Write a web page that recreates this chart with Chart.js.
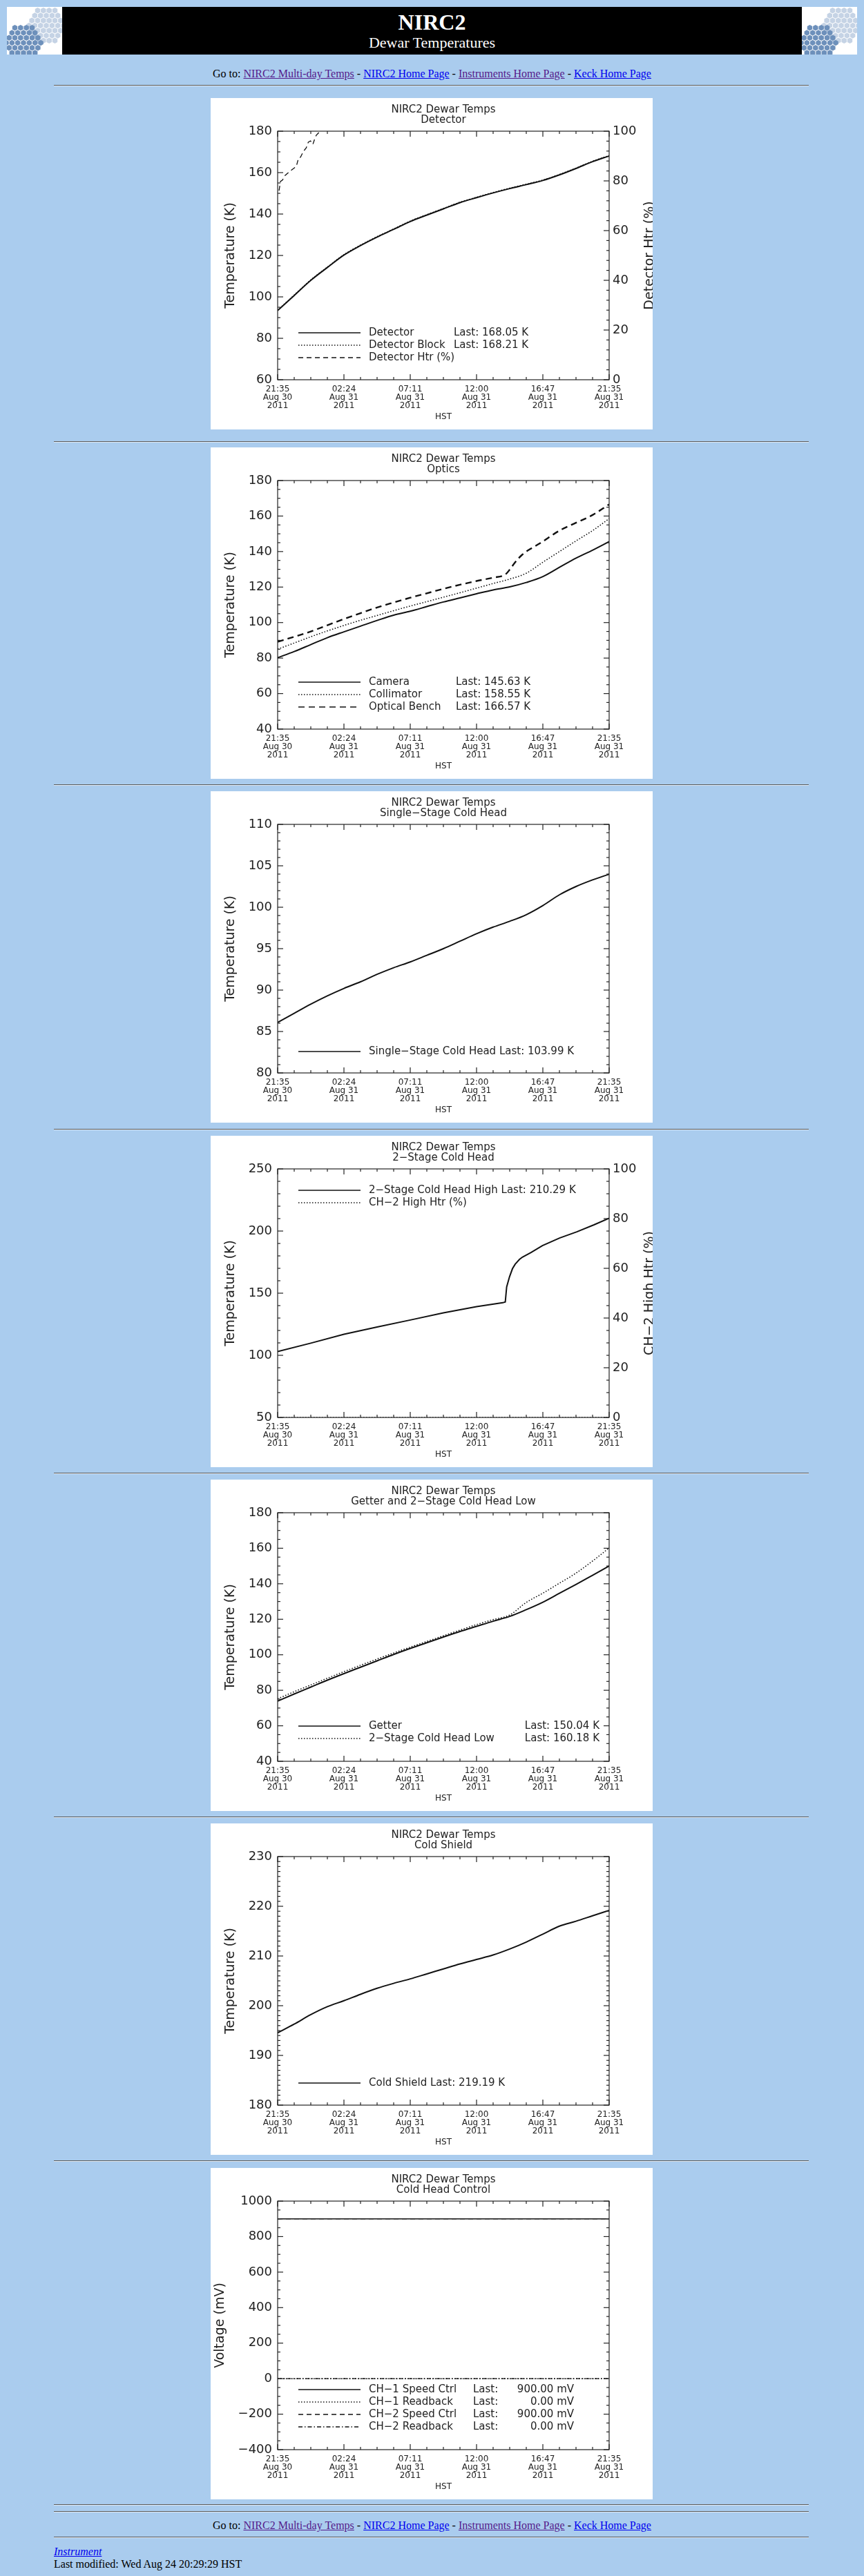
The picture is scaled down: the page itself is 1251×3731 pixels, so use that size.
<!DOCTYPE html>
<html>
<head>
<meta charset="utf-8">
<title>NIRC2 Dewar Temperatures</title>
<script src="https://cdn.jsdelivr.net/npm/chart.js@4.4.1/dist/chart.umd.min.js"></script>
<style>
  html, body { margin: 0; padding: 0; }
  body { background: #aaccee; width: 1251px; height: 3731px; position: relative; overflow: hidden;
         font-family: "Liberation Serif", "Times New Roman", serif; font-size: 16px; color: #000; }
  .logo { position: absolute; top: 10px; width: 80px; height: 69px; background: #fff; overflow: hidden; }
  .banner { position: absolute; left: 90px; top: 10px; width: 1071px; height: 69px; background: #000; color: #fff; text-align: center; }
  .banner .big { position: absolute; left: 0; right: 0; top: 4px; font-size: 32px; font-weight: bold; line-height: 36px; }
  .banner .sub { position: absolute; left: 0; right: 0; top: 39px; font-size: 22px; line-height: 26px; }
  .rule { position: absolute; left: 78px; width: 1093px; height: 0; border-top: 1px solid #5a5a5a; border-bottom: 1px solid #dfe9f4; }
  .goto { position: absolute; left: 0; width: 1251px; height: 18px; line-height: 18px; text-align: center; }
  a { color: #0000ee; }
  a.v { color: #551a8b; }
  .panel { position: absolute; left: 305px; width: 640px; height: 480px; background: #fff; }
  .foot { position: absolute; left: 78px; height: 18px; line-height: 18px; }
</style>
</head>
<body>
<div class="logo" style="left:10px" id="logoL"></div>
<div class="banner"><div class="big">NIRC2</div><div class="sub">Dewar Temperatures</div></div>
<div class="logo" style="left:1161px" id="logoR"></div>

<div class="goto" style="top:98px">Go to: <a class="v" href="#">NIRC2 Multi-day Temps</a> - <a href="#">NIRC2 Home Page</a> - <a class="v" href="#">Instruments Home Page</a> - <a href="#">Keck Home Page</a></div>
<div class="rule" style="top:123px"></div>

<div class="panel" style="top:142px"><canvas id="detector"></canvas></div>
<div class="rule" style="top:639px"></div>
<div class="panel" style="top:648px"><canvas id="optics"></canvas></div>
<div class="rule" style="top:1136px"></div>
<div class="panel" style="top:1146px"><canvas id="single"></canvas></div>
<div class="rule" style="top:1635px"></div>
<div class="panel" style="top:1645px"><canvas id="twostage"></canvas></div>
<div class="rule" style="top:2133px"></div>
<div class="panel" style="top:2143px"><canvas id="getter"></canvas></div>
<div class="rule" style="top:2631px"></div>
<div class="panel" style="top:2641px"><canvas id="shield"></canvas></div>
<div class="rule" style="top:3129px"></div>
<div class="panel" style="top:3140px"><canvas id="control"></canvas></div>

<div class="rule" style="top:3627px"></div>
<div class="rule" style="top:3637px"></div>
<div class="goto" style="top:3649px">Go to: <a class="v" href="#">NIRC2 Multi-day Temps</a> - <a href="#">NIRC2 Home Page</a> - <a class="v" href="#">Instruments Home Page</a> - <a href="#">Keck Home Page</a></div>
<div class="rule" style="top:3674px"></div>
<div class="foot" style="top:3687px"><a href="#"><i>Instrument</i></a></div>
<div class="foot" style="top:3705px">Last modified: Wed Aug 24 20:29:29 HST</div>

<script>
const FONT = '"DejaVu Sans", "Liberation Sans", sans-serif';
const INK = '#222';
const LINE_INK = '#111';

// time axis: hours after 21:35 HST, Aug 30 2011
const HOURS = [0, 1.2, 2.4, 3.6, 4.8, 6.0, 7.2, 8.4, 9.6, 10.8, 12.0, 13.2, 14.4, 15.6, 16.8, 18.0, 19.2, 20.4, 21.6, 22.8, 24.0];
const X_TICK_HOURS = [0, 4.8, 9.6, 14.4, 19.2, 24];
const X_TICK_TIMES = ['21:35', '02:24', '07:11', '12:00', '16:47', '21:35'];
const X_TICK_DATES = ['Aug 30', 'Aug 31', 'Aug 31', 'Aug 31', 'Aug 31', 'Aug 31'];
const X_TICK_YEARS = ['2011', '2011', '2011', '2011', '2011', '2011'];

// Detector
const detectorTemp  = [93.4, 100.7, 108.0, 114.2, 120.2, 124.8, 128.9, 132.6, 136.4, 139.5, 142.5, 145.5, 147.9, 150.2, 152.3, 154.2, 156.2, 158.9, 162.0, 165.3, 168.05];
const detectorBlock = [93.6, 100.9, 108.2, 114.4, 120.4, 125.0, 129.1, 132.8, 136.6, 139.7, 142.7, 145.7, 148.1, 150.4, 152.5, 154.4, 156.4, 159.1, 162.2, 165.5, 168.21];
const htrHours = [0.10, 0.21, 0.35, 0.52, 0.73, 1.04, 1.35, 1.51, 1.66, 1.87, 2.07, 2.22, 2.38, 2.55, 2.69, 2.80, 2.96, 3.05];
const htrPct   = [76.1, 79.8, 80.3, 82.1, 83.1, 84.5, 85.8, 89.1, 89.6, 91.9, 93.3, 95.6, 96.1, 94.7, 97.0, 98.4, 99.3, 100.0];
const detectorNames = ['Detector', 'Detector Block', 'Detector Htr (%)'];
const detectorLast  = ['Last: 168.05 K', 'Last: 168.21 K', ''];

// Optics
const cameraTemp     = [80.2, 83.7, 87.6, 91.5, 94.8, 98.0, 101.2, 104.2, 106.4, 109.0, 111.6, 113.9, 116.2, 118.4, 120.1, 122.6, 125.9, 131.1, 136.3, 140.8, 145.63];
const collimatorTemp = [85.0, 88.5, 92.0, 95.3, 98.4, 101.3, 104.0, 106.7, 109.3, 111.8, 114.3, 116.8, 119.4, 122.0, 124.5, 127.8, 134.0, 140.0, 146.0, 151.8, 158.55];
const benchHours = [0, 1.2, 2.4, 3.6, 4.8, 6.0, 7.2, 8.4, 9.6, 10.8, 12.0, 13.2, 14.4, 15.6, 16.5, 16.8, 17.2, 17.7, 18.3, 19.0, 20.4, 21.6, 22.8, 24.0];
const benchTemp  = [89.2, 92.0, 95.0, 98.5, 102.0, 105.3, 108.5, 111.3, 114.0, 116.5, 119.0, 121.3, 123.4, 125.3, 127.2, 129.8, 134.0, 138.2, 141.5, 144.7, 151.8, 156.2, 160.6, 166.57];
const opticsNames = ['Camera', 'Collimator', 'Optical Bench'];
const opticsLast  = ['Last: 145.63 K', 'Last: 158.55 K', 'Last: 166.57 K'];

// Single-stage cold head
const singleTemp = [86.1, 87.2, 88.3, 89.3, 90.2, 91.0, 91.9, 92.7, 93.4, 94.2, 95.0, 95.9, 96.8, 97.6, 98.3, 99.1, 100.2, 101.5, 102.5, 103.3, 103.99];
const singleNames = ['Single\u2212Stage Cold Head Last: 103.99 K'];

// 2-stage cold head
const ch2Hours = [0, 2.4, 4.8, 7.2, 9.6, 12.0, 14.4, 16.3, 16.48, 16.58, 16.79, 17.0, 17.2, 17.51, 17.72, 18.34, 19.17, 20.41, 21.66, 22.9, 24.0];
const ch2High  = [103.0, 109.8, 116.9, 122.8, 128.4, 134.2, 139.2, 142.3, 142.9, 155.0, 163.3, 169.7, 173.4, 177.2, 179.0, 182.7, 188.3, 194.4, 199.4, 205.0, 210.29];
const ch2HtrHours = [0, 24];
const ch2HtrPct   = [0, 0];
const ch2Names = ['2\u2212Stage Cold Head High Last: 210.29 K', 'CH\u22122 High Htr (%)'];

// Getter and 2-stage low
const getterTemp = [73.9, 77.9, 81.8, 85.7, 89.4, 93.0, 96.6, 100.2, 103.6, 106.8, 110.0, 113.1, 116.0, 118.9, 121.6, 125.4, 129.6, 134.6, 139.6, 144.8, 150.04];
const ch2LowTemp = [75.2, 79.2, 83.0, 86.8, 90.5, 94.1, 97.6, 101.0, 104.3, 107.5, 110.7, 113.9, 117.0, 119.8, 122.4, 129.5, 134.7, 140.3, 146.0, 152.8, 160.18];
const getterNames = ['Getter', '2\u2212Stage Cold Head Low'];
const getterLast  = ['Last: 150.04 K', 'Last: 160.18 K'];

// Cold shield
const shieldTemp = [194.55, 196.3, 198.2, 199.8, 201.0, 202.3, 203.5, 204.5, 205.4, 206.4, 207.4, 208.4, 209.3, 210.2, 211.4, 212.8, 214.4, 216.0, 217.0, 218.1, 219.19];
const shieldNames = ['Cold Shield Last: 219.19 K'];

// Cold head control
const ctrlHours   = [0, 24];
const ch1SpeedMv  = [900, 900];
const ch1ReadMv   = [0, 0];
const ch2SpeedMv  = [900, 900];
const ch2ReadMv   = [0, 0];
const ctrlNames = ['CH\u22121 Speed Ctrl', 'CH\u22121 Readback', 'CH\u22122 Speed Ctrl', 'CH\u22122 Readback'];
const ctrlLast  = ['900.00 mV', '0.00 mV', '900.00 mV', '0.00 mV'];

// ---------- plugins ----------
function onStep(v, step) {
  const q = v / step;
  return Math.abs(q - Math.round(q)) < 1e-6;
}

// IDL style box with inward ticks on all four sides
const idlFrame = {
  id: 'idlFrame',
  afterDatasetsDraw(chart, args, o) {
    const { ctx, chartArea: a, scales } = chart;
    const seg = (x1, y1, x2, y2) => { ctx.beginPath(); ctx.moveTo(x1, y1); ctx.lineTo(x2, y2); ctx.stroke(); };
    ctx.save();
    ctx.strokeStyle = INK;
    ctx.lineWidth = 1.2;
    ctx.setLineDash([]);
    ctx.strokeRect(a.left, a.top, a.right - a.left, a.bottom - a.top);
    const walk = (scale, minor, major, fn) => {
      const n = Math.round((scale.max - scale.min) / minor);
      for (let i = 0; i <= n; i++) {
        const v = scale.min + i * minor;
        fn(scale.getPixelForValue(v), onStep(v, major) ? 8 : 4);
      }
    };
    walk(scales.x, o.xMinor, o.xMajor, (p, len) => { seg(p, a.bottom, p, a.bottom - len); seg(p, a.top, p, a.top + len); });
    walk(scales.y, o.yMinor, o.yMajor, (p, len) => {
      seg(a.left, p, a.left + len, p);
      if (!scales.y2) seg(a.right, p, a.right - len, p);
    });
    if (scales.y2) walk(scales.y2, o.y2Minor, o.y2Major, (p, len) => seg(a.right, p, a.right - len, p));
    ctx.restore();
  }
};

// legend rows drawn inside the plot like IDL does
const idlLegend = {
  id: 'idlLegend',
  afterDatasetsDraw(chart, args, o) {
    if (!o.rows) return;
    const ctx = chart.ctx;
    ctx.save();
    ctx.font = '15px ' + FONT;
    ctx.fillStyle = INK;
    ctx.textBaseline = 'middle';
    o.rows.forEach((row, i) => {
      const ds = chart.data.datasets[i];
      const y = o.y[i];
      ctx.strokeStyle = LINE_INK;
      ctx.lineWidth = Math.min(ds.borderWidth, 1.6);
      ctx.setLineDash(ds.borderDash || []);
      ctx.beginPath(); ctx.moveTo(127, y); ctx.lineTo(217, y); ctx.stroke();
      ctx.setLineDash([]);
      row.forEach((txt, j) => {
        const c = o.cols[j];
        ctx.textAlign = c.align || 'left';
        ctx.fillText(txt, c.x, y);
      });
    });
    ctx.restore();
  }
};

// right axis title, reading bottom to top, half cut by the image edge
const sideTitle = {
  id: 'sideTitle',
  afterDraw(chart, args, o) {
    if (!o.text) return;
    const { ctx, chartArea: a } = chart;
    ctx.save();
    ctx.font = '19px ' + FONT;
    ctx.fillStyle = INK;
    ctx.translate(o.x, (a.top + a.bottom) / 2);
    ctx.rotate(-Math.PI / 2);
    ctx.textAlign = 'center';
    ctx.textBaseline = 'middle';
    ctx.fillText(o.text, 0, 0);
    ctx.restore();
  }
};

function yTicks(min, max, step) {
  return s => {
    const t = [];
    for (let i = 0; i <= Math.round((max - min) / step); i++) t.push({ value: min + i * step });
    s.ticks = t;
  };
}

function series(label, xs, ys, style) {
  return Object.assign({
    label: label,
    data: xs.map((h, i) => ({ x: h, y: ys[i] })),
    borderColor: LINE_INK,
    borderWidth: 2,
    borderDash: [],
    pointRadius: 0,
    fill: false,
    cubicInterpolationMode: 'monotone',
    yAxisID: 'y'
  }, style || {});
}

const SOLID = { borderWidth: 2 };
const DOTTED = { borderWidth: 1.5, borderDash: [1.5, 2.5], borderColor: '#000' };
const DASHED = { borderWidth: 1.3, borderDash: [7, 5] };
const DASHED_BOLD = { borderWidth: 2.4, borderDash: [9, 6] };
const DASHDOT = { borderWidth: 1.3, borderDash: [6, 3, 1.5, 3] };

function makeChart(id, cfg) {
  const scales = {
    x: {
      type: 'linear', min: 0, max: 24, position: 'bottom',
      afterBuildTicks: s => { s.ticks = X_TICK_HOURS.map(v => ({ value: v })); },
      afterFit: s => { s.height = 72; },
      grid: { display: false, drawTicks: false },
      border: { display: false },
      ticks: {
        autoSkip: false, maxRotation: 0, padding: 8, color: INK,
        font: { family: FONT, size: 12, lineHeight: 1 },
        callback: (v, i) => [X_TICK_TIMES[i], X_TICK_DATES[i], X_TICK_YEARS[i]]
      },
      title: { display: true, text: 'HST', color: INK, font: { family: FONT, size: 12, lineHeight: 1.2 }, padding: { top: 0, bottom: 11 } }
    },
    y: {
      type: 'linear', min: cfg.y[0], max: cfg.y[1], position: 'left',
      afterBuildTicks: yTicks(cfg.y[0], cfg.y[1], cfg.y[2]),
      afterFit: s => { s.width = 97; },
      grid: { display: false, drawTicks: false },
      border: { display: false },
      ticks: { padding: 8, color: INK, font: { family: FONT, size: 18 }, callback: v => String(v).replace('-', '\u2212') },
      title: { display: true, text: cfg.yTitle, color: INK, font: { family: FONT, size: 19, lineHeight: 1.2 }, padding: { top: cfg.yTitlePad } }
    }
  };
  if (cfg.y2) {
    scales.y2 = {
      type: 'linear', min: cfg.y2[0], max: cfg.y2[1], position: 'right',
      afterBuildTicks: yTicks(cfg.y2[0], cfg.y2[1], cfg.y2[2]),
      afterFit: s => { s.width = 63; },
      grid: { display: false, drawTicks: false },
      border: { display: false },
      ticks: { padding: 5, color: INK, font: { family: FONT, size: 18 } }
    };
  }
  return new Chart(document.getElementById(id), {
    type: 'line',
    data: { datasets: cfg.datasets },
    options: {
      responsive: true,
      maintainAspectRatio: false,
      animation: false,
      layout: { padding: { left: 0, top: 0, bottom: 0, right: cfg.y2 ? 0 : 63 } },
      scales: scales,
      plugins: {
        legend: { display: false },
        tooltip: { enabled: false },
        title: {
          display: true, fullSize: false, text: ['NIRC2 Dewar Temps', cfg.title], color: INK,
          font: { family: FONT, size: 15, weight: 'normal', lineHeight: 1 }, padding: { top: 10, bottom: 8 }
        },
        idlFrame: { xMinor: 1.2, xMajor: 4.8, yMinor: cfg.y[3], yMajor: cfg.y[2],
                    y2Minor: cfg.y2 ? cfg.y2[3] : 0, y2Major: cfg.y2 ? cfg.y2[2] : 0 },
        idlLegend: cfg.legend,
        sideTitle: { text: cfg.y2Title || '', x: 636 }
      }
    },
    plugins: [idlFrame, idlLegend, sideTitle]
  });
}

const ROWS = [340, 358, 376];

makeChart('detector', {
  title: 'Detector', y: [60, 180, 20, 5], y2: [0, 100, 20, 4], yTitle: 'Temperature (K)', yTitlePad: 17.6,
  y2Title: 'Detector Htr (%)',
  datasets: [
    series(detectorNames[0], HOURS, detectorTemp, SOLID),
    series(detectorNames[1], HOURS, detectorBlock, DOTTED),
    series(detectorNames[2], htrHours, htrPct, Object.assign({ yAxisID: 'y2', cubicInterpolationMode: 'default', tension: 0 }, DASHED))
  ],
  legend: { y: ROWS, cols: [{ x: 229 }, { x: 352 }],
            rows: detectorNames.map((n, i) => detectorLast[i] ? [n, detectorLast[i]] : [n]) }
});

makeChart('optics', {
  title: 'Optics', y: [40, 180, 20, 5], yTitle: 'Temperature (K)', yTitlePad: 17.6,
  datasets: [
    series(opticsNames[0], HOURS, cameraTemp, SOLID),
    series(opticsNames[1], HOURS, collimatorTemp, DOTTED),
    series(opticsNames[2], benchHours, benchTemp, DASHED_BOLD)
  ],
  legend: { y: ROWS, cols: [{ x: 229 }, { x: 355 }], rows: opticsNames.map((n, i) => [n, opticsLast[i]]) }
});

makeChart('single', {
  title: 'Single\u2212Stage Cold Head', y: [80, 110, 5, 1], yTitle: 'Temperature (K)', yTitlePad: 17.6,
  datasets: [series(singleNames[0], HOURS, singleTemp, SOLID)],
  legend: { y: [377], cols: [{ x: 229 }], rows: [[singleNames[0]]] }
});

makeChart('twostage', {
  title: '2\u2212Stage Cold Head', y: [50, 250, 50, 10], y2: [0, 100, 20, 5], yTitle: 'Temperature (K)', yTitlePad: 17.6,
  y2Title: 'CH\u22122 High Htr (%)',
  datasets: [
    series(ch2Names[0], ch2Hours, ch2High, Object.assign({ cubicInterpolationMode: 'default', tension: 0 }, SOLID)),
    series(ch2Names[1], ch2HtrHours, ch2HtrPct, Object.assign({ yAxisID: 'y2' }, DOTTED))
  ],
  legend: { y: [79, 97], cols: [{ x: 229 }], rows: ch2Names.map(n => [n]) }
});

makeChart('getter', {
  title: 'Getter and 2\u2212Stage Cold Head Low', y: [40, 180, 20, 5], yTitle: 'Temperature (K)', yTitlePad: 17.6,
  datasets: [
    series(getterNames[0], HOURS, getterTemp, SOLID),
    series(getterNames[1], HOURS, ch2LowTemp, DOTTED)
  ],
  legend: { y: [357, 375], cols: [{ x: 229 }, { x: 563, align: 'right' }], rows: getterNames.map((n, i) => [n, getterLast[i]]) }
});

makeChart('shield', {
  title: 'Cold Shield', y: [180, 230, 10, 1], yTitle: 'Temperature (K)', yTitlePad: 17.6,
  datasets: [series(shieldNames[0], HOURS, shieldTemp, SOLID)],
  legend: { y: [376], cols: [{ x: 229 }], rows: [[shieldNames[0]]] }
});

makeChart('control', {
  title: 'Cold Head Control', y: [-400, 1000, 200, 50], yTitle: 'Voltage (mV)', yTitlePad: 2.6,
  datasets: [
    series(ctrlNames[0], ctrlHours, ch1SpeedMv, { borderWidth: 1.6 }),
    series(ctrlNames[1], ctrlHours, ch1ReadMv, DOTTED),
    series(ctrlNames[2], ctrlHours, ch2SpeedMv, DASHED),
    series(ctrlNames[3], ctrlHours, ch2ReadMv, DASHDOT)
  ],
  legend: { y: [321, 339, 357, 375], cols: [{ x: 229 }, { x: 380 }, { x: 526, align: 'right' }],
            rows: ctrlNames.map((n, i) => [n, 'Last:', ctrlLast[i]]) }
});

// Keck hexagon-mirror logos
function drawLogo(el) {
  const NS = 'http://www.w3.org/2000/svg';
  const svg = document.createElementNS(NS, 'svg');
  svg.setAttribute('width', '80');
  svg.setAttribute('height', '69');
  const r = 4.3, w = Math.sqrt(3) * r;
  [[57, 27, '#c5d3e5'], [24, 52, '#6d90bb']].forEach(([cx, cy, col]) => {
    for (let row = -5; row <= 5; row++) {
      for (let q = -6; q <= 6; q++) {
        const x = cx + (q + (row & 1 ? 0.5 : 0)) * (w + 0.9);
        const y = cy + row * (1.5 * r + 0.8);
        if (Math.hypot(x - cx, y - cy) > 27) continue;
        const pts = [];
        for (let k = 0; k < 6; k++) {
          const t = Math.PI / 3 * k + Math.PI / 6;
          pts.push((x + r * Math.cos(t)).toFixed(1) + ',' + (y + r * Math.sin(t)).toFixed(1));
        }
        const p = document.createElementNS(NS, 'polygon');
        p.setAttribute('points', pts.join(' '));
        p.setAttribute('fill', col);
        svg.appendChild(p);
      }
    }
  });
  el.appendChild(svg);
}
drawLogo(document.getElementById('logoL'));
drawLogo(document.getElementById('logoR'));
</script>
</body>
</html>
